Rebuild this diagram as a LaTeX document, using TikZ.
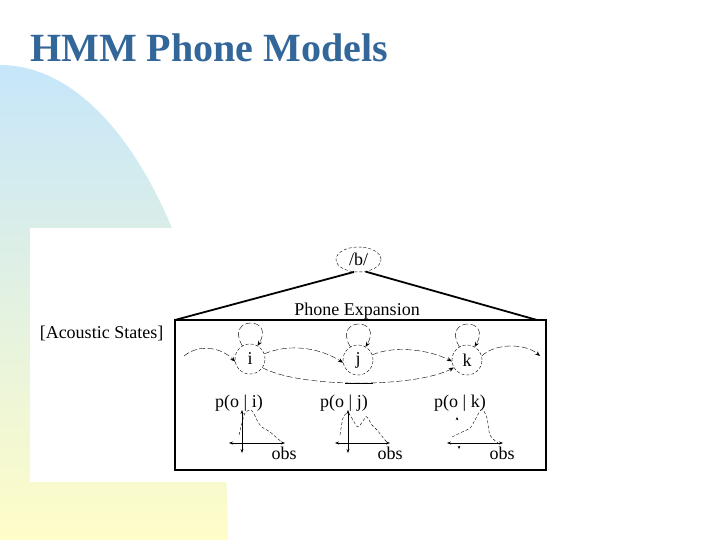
\documentclass[tikz,border=0pt]{standalone}
\usepackage{fontspec}
\setmainfont{Liberation Serif}
\usetikzlibrary{arrows.meta,shapes.geometric}
\definecolor{titleblue}{RGB}{51,102,153}
\definecolor{bgblue}{RGB}{198,230,250}
\definecolor{bgyellow}{RGB}{255,253,200}

\begin{document}
\begin{tikzpicture}[x=1pt,y=-1pt,
  lbl/.style={font=\fontsize{18}{18}\selectfont,inner sep=0pt},
  state/.style={circle,draw,densely dashed,thin,minimum size=30pt,inner sep=0pt,font=\fontsize{18}{18}\selectfont},
  trans/.style={thin,dash pattern=on 6pt off 2.5pt,-{Stealth[length=5pt,width=4pt]}},
  axis/.style={semithick,{Stealth[length=4pt,width=3pt]}-{Stealth[length=4pt,width=3pt]}},
  pdf/.style={thin,densely dashed}]
\useasboundingbox (0,0) rectangle (720,540);

% Background
\shade[top color=bgblue,bottom color=bgyellow] (0,540) -- (0,65)
  arc[start angle=-90,end angle=0,x radius=228,y radius=475] -- cycle;
\fill[white] (30,228) rectangle (560,482);

% Title
\node[anchor=base west,inner sep=0pt,text=titleblue,font=\fontsize{40}{40}\selectfont\bfseries] (title) at (30,62) {HMM Phone Models};

% Phone and its expansion
\node[ellipse,draw,densely dashed,thin,minimum width=45pt,minimum height=25pt,inner sep=0pt,font=\fontsize{18}{18}\selectfont] (phone) at (358.5,259.5) {/b/};
\coordinate (boxnw) at (175,320);
\coordinate (boxne) at (537,320);
\draw[line width=1.8pt] (phone.250) -- (boxnw);
\draw[line width=1.8pt] (phone.300) -- (boxne);
\node[lbl,anchor=base] (expand) at (357,315) {Phone Expansion};
\node[lbl,anchor=base] (acoustic) at (101.5,338) {[Acoustic States]};

% Box
\draw[line width=1.2pt] (175,320) rectangle (546,470);
\draw[line width=2.8pt] (175,470) -- (546,470) -- (546,319);

% States
\node[state] (si) at (250,359) {i};
\node[state] (sj) at (358,360) {j};
\node[state] (sk) at (467,360) {k};

% Self loops
\draw[trans] (si.120) .. controls +(-18,-30) and +(18,-30) .. (si.60);
\draw[trans] (sj.120) .. controls +(-18,-30) and +(18,-30) .. (sj.60);
\draw[trans] (sk.120) .. controls +(-18,-30) and +(18,-30) .. (sk.60);

% Transitions
\coordinate (entry) at (184,356);
\coordinate (exit) at (540,356);
\draw[trans] (entry) .. controls (200,343) and (222,348) .. (si.190);
\draw[trans] (si.20) .. controls (290,343) and (320,348) .. (sj.190);
\draw[trans] (sj.20) .. controls (395,345) and (430,350) .. (sk.185);
\draw[trans] (si.-35) .. controls (300,388) and (415,388) .. (sk.210);
\draw[semithick] (345,383) -- (373,383);
\draw[trans] (sk.15) .. controls (495,343) and (525,343) .. (exit);

% Output densities
\node[lbl,anchor=base] (pi) at (239,407) {p(o | i)};
\node[lbl,anchor=base] (pj) at (344,407) {p(o | j)};
\node[lbl,anchor=base] (pk) at (460,407) {p(o | k)};
\node[lbl,anchor=base] (obsi) at (284,459) {obs};
\node[lbl,anchor=base] (obsj) at (390,459) {obs};
\node[lbl,anchor=base] (obsk) at (502,459) {obs};

\draw[axis] (229,443) -- (285,443);
\draw[axis] (242,410) -- (242,453);
\draw[pdf] plot[smooth] coordinates {(239,435) (242,423) (245,413) (250,410) (253,412) (258,422) (262,427) (270,432) (277,438) (283,443)};

\draw[axis] (335,443) -- (390,443);
\draw[axis] (348,410) -- (348,453);
\draw[pdf] plot[smooth] coordinates {(340,435) (343,418) (347,413) (350,415) (353,420) (358,427) (365,418) (367,417) (372,425) (377,430) (385,440) (388,443)};

\draw[axis] (447,443) -- (503,443);
\draw[thin,-{Stealth[length=3pt,width=2.5pt]}] (457,420) -- (457,417);
\draw[thin,-{Stealth[length=3pt,width=2.5pt]}] (459,446) -- (459,449);
\draw[pdf] plot[smooth] coordinates {(452,437) (460,433) (470,428) (475,420) (480,411) (483,410) (487,418) (490,435) (498,443)};
\end{tikzpicture}
\end{document}
